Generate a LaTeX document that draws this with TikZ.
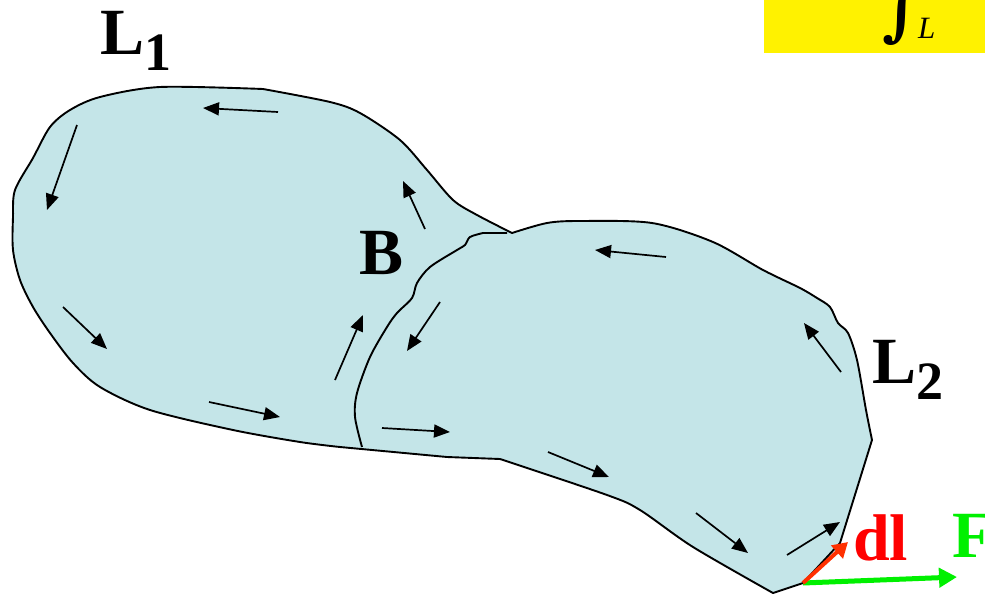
\documentclass[tikz,border=0pt]{standalone}
\usepackage{fontspec}
\setmainfont{Liberation Serif}
\newfontfamily\intfont{DejaVu Serif}
\usetikzlibrary{arrows.meta}
\definecolor{areafill}{RGB}{196,229,232}
\definecolor{dlred}{RGB}{255,48,0}
\definecolor{fgreen}{RGB}{0,240,0}
\tikzset{
  flow/.style={-{Triangle[length=16pt,width=13pt]}, line width=1.7pt},
  contour/.style={line width=1.9pt, line join=round},
  biglabel/.style={anchor=base west, inner sep=0pt, font=\bfseries\fontsize{66}{66}\selectfont},
}
\newcommand{\mysub}[1]{\raisebox{-16pt}{\fontsize{54}{54}\selectfont #1}}
\begin{document}
\begin{tikzpicture}[x=1pt,y=-1pt]
\useasboundingbox (0,0) rectangle (985,594);
\clip (0,0) rectangle (985,594);
% yellow box
\fill[yellow] (764,-2) rectangle (987,53);
\node[anchor=base west, inner sep=0pt, font=\intfont\bfseries\fontsize{66}{66}\selectfont] (intg) at (882,34) {∫};
\node[anchor=base west, inner sep=0pt, font=\itshape\fontsize{31}{31}\selectfont] (lsub) at (918,39) {L};
% region
\path[fill=areafill, draw=black, contour]
  (512,233)
  -- plot[smooth, tension=0.5] coordinates {(512,233) (547,223) (580,221) (652,223) (713,242) (763,270) (800,288) (817,298) (830,307) (838,323) (848,333) (857,360) (866,410) (872,440)}
  -- (840,543) -- (803,583) -- (773,593)
  -- plot[smooth, tension=0.5] coordinates {(773,593) (693,547) (640,510) (607,495) (500,459)}
  -- (447,457) -- (340,447)
  -- plot[smooth, tension=0.5] coordinates {(340,447) (300,442) (233,430) (150,410) (100,387) (73,363) (50,333) (33,307) (20,280) (13,250) (13,217) (15,190) (33,158) (50,127) (70,110) (100,97) (160,87) (263,89)}
  -- plot[smooth, tension=0.5] coordinates {(263,89) (330,102) (360,113) (400,140) (427,170) (453,200) (477,215) (512,233)}
  -- cycle;
% inner boundary of L2
\draw[contour] (507,233) -- (483,233)
  -- plot[smooth, tension=0.5] coordinates {(483,233) (470,237) (465,245) (457,250) (430,267) (417,283) (412,298) (397,313) (387,327) (370,357) (357,393) (355,417) (362,447)};
% circulation arrows
\draw[flow] (278,112) -- (203,108);
\draw[flow] (77,125) -- (47,210);
\draw[flow] (63,307) -- (107,349);
\draw[flow] (209,402) -- (280,417);
\draw[flow] (335,380) -- (363,315);
\draw[flow] (425,229) -- (403,181);
\draw[flow] (440,302) -- (407,351);
\draw[flow] (382,428) -- (450,432);
\draw[flow] (548,452) -- (609,477);
\draw[flow] (696,513) -- (748,553);
\draw[flow] (787,555) -- (840,522);
\draw[flow] (666,257) -- (595,250);
\draw[flow] (841,372) -- (804,323);
% dl and F
\coordinate (p0) at (803,583);
\coordinate (dlend) at (848,542);
\coordinate (fend) at (957,577);
\draw[fgreen, line width=5pt, -{Triangle[length=18pt,width=19pt]}] (p0) -- (fend);
\draw[dlred, line width=4pt, -{Triangle[length=15pt,width=17pt]}] (p0) -- (dlend);
% labels
\node[biglabel] (l1) at (100,55) {L\mysub{1}};
\node[biglabel] (l2) at (872,383) {L\mysub{2}};
\node[biglabel] (b) at (359,274) {B};
\node[biglabel, text=red] (dl) at (853,560) {dl};
\node[biglabel, text=fgreen] (f) at (952,557) {F};
\end{tikzpicture}
\end{document}
